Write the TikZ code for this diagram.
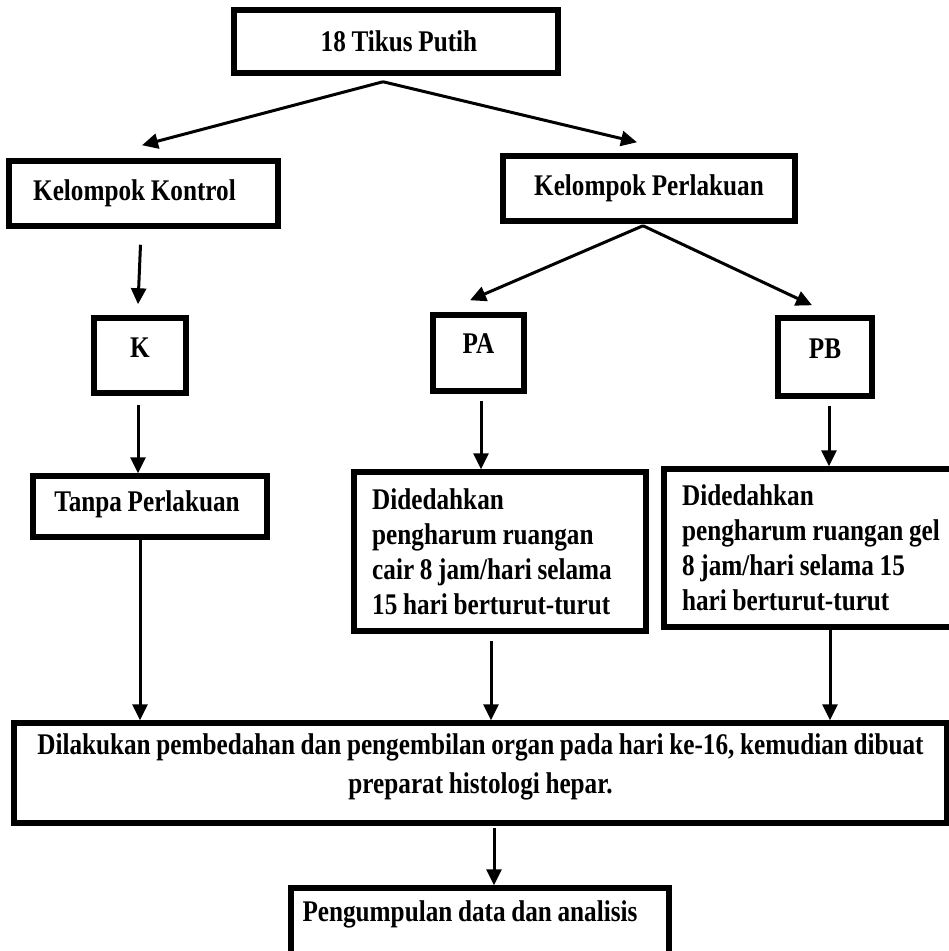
\documentclass[tikz,border=0pt]{standalone}
\usepackage{fontspec}
\setmainfont[FakeStretch=0.84,WordSpace=0.9]{Liberation Serif}
\usetikzlibrary{arrows.meta,calc}
\begin{document}
\begin{tikzpicture}[x=1pt,y=-1pt,
  box/.style={draw, line width=5.5pt, inner sep=0pt, align=center,
    font=\fontsize{30}{35}\selectfont\bfseries},
  descbox/.style={box, align=left},
  arr/.style={line width=3pt, -{Triangle[length=16pt,width=15pt]}}]
\useasboundingbox (0,0) rectangle (949,951);
\fill[white] (0,0) rectangle (949,951);

% boxes
\node[box, minimum width=324pt, minimum height=63pt] (top) at (396,41.5) {18 Tikus Putih\hspace*{-6pt}};
\node[box, minimum width=269pt, minimum height=65pt] (kk) at (143.5,193.5) {\hspace*{-18pt}Kelompok Kontrol};
\node[box, minimum width=292pt, minimum height=65pt] (kp) at (649,188.5) {Kelompok Perlakuan};
\node[box, minimum width=92pt, minimum height=75pt, text depth=16pt] (k) at (140,355.5) {K};
\node[box, minimum width=91pt, minimum height=76pt, text depth=18pt] (pa) at (478.5,353) {PA};
\node[box, minimum width=94pt, minimum height=78pt, text depth=16pt] (pb) at (825,357) {PB};
\node[box, minimum width=234pt, minimum height=61pt, text depth=10pt] (tanpa) at (150,506.5) {\hspace*{-6pt}Tanpa Perlakuan};
\node[descbox, minimum width=292pt, minimum height=159pt] (pad) at (500,551.5)
  {Didedahkan\\pengharum ruangan\\cair 8 jam/hari selama\rule{16pt}{0pt}\\15 hari berturut-turut};
\node[descbox, minimum width=310pt, minimum height=158pt] (pbd) at (819,548)
  {Didedahkan\\pengharum ruangan gel\rule{16pt}{0pt}\\8 jam/hari selama 15\\hari berturut-turut};
\node[box, minimum width=933pt, minimum height=100pt, text depth=18pt,
  font=\fontsize{30}{39}\selectfont\bfseries] (dil) at (480.5,773)
  {Dilakukan pembedahan dan pengembilan organ pada hari ke-16, kemudian dibuat\\preparat histologi hepar.};
\node[box, minimum width=378pt, minimum height=72pt, text depth=26pt] (peng) at (480,924)
  {\hspace*{-20pt}Pengumpulan data dan analisis};

% branch points
\coordinate (topapex) at ([xshift=-13pt,yshift=-6pt]top.south);
\coordinate (kpapex) at ([xshift=-6pt,yshift=-2pt]kp.south);

% connectors
\draw[arr] (topapex) -- ([xshift=-1.5pt,yshift=13pt]kk.north);
\draw[arr] (topapex) -- ([xshift=-12pt,yshift=11pt]kp.north);
\draw[arr] (kpapex) -- ([xshift=-8.5pt,yshift=12pt]pa.north);
\draw[arr] (kpapex) -- ([xshift=-13pt,yshift=10pt]pb.north);
\draw[arr] ([xshift=-3pt,yshift=-16pt]kk.south) -- ([xshift=-2pt,yshift=11pt]k.north);
\draw[arr] ([xshift=-2pt,yshift=-9pt]k.south) -- ([xshift=-12pt]tanpa.north);
\draw[arr] ([xshift=2.5pt,yshift=-7pt]pa.south) -- ([xshift=-19pt]pad.north);
\draw[arr] ([xshift=4pt,yshift=-7pt]pb.south) -- ([xshift=10pt]pbd.north);
\draw[arr] ([xshift=-10pt]tanpa.south) -- ([xshift=-340.5pt]dil.north);
\draw[arr] ([xshift=-9pt,yshift=-7pt]pad.south) -- ([xshift=10.5pt]dil.north);
\draw[arr] ([xshift=11pt]pbd.south) -- ([xshift=349.5pt]dil.north);
\draw[arr] ([xshift=13.5pt,yshift=-2pt]dil.south) -- ([xshift=14pt]peng.north);
\end{tikzpicture}
\end{document}
